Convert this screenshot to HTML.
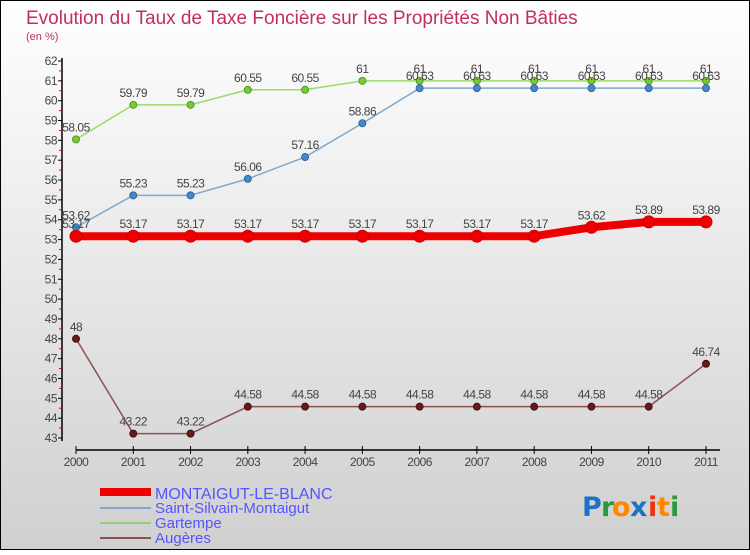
<!DOCTYPE html>
<html><head><meta charset="utf-8"><style>
body{margin:0;width:750px;height:550px;overflow:hidden;font-family:"Liberation Sans",sans-serif}
</style></head><body>
<svg id="c" width="750" height="550" xmlns="http://www.w3.org/2000/svg">
<defs><linearGradient id="bg" x1="0" y1="0" x2="0" y2="1"><stop offset="0" stop-color="#ffffff"/><stop offset="1" stop-color="#d0d0d0"/></linearGradient></defs>
<rect x="0.5" y="0.5" width="749" height="549" fill="url(#bg)" stroke="#000"/>
<text x="26" y="24" font-size="19" fill="#c0305a">Evolution du Taux de Taxe Foncière sur les Propriétés Non Bâties</text>
<text x="26" y="40" font-size="11" fill="#c0305a">(en %)</text>
<g id="axes"></g><g id="series"></g>
<g>
<rect x="100" y="488" width="51" height="8" fill="#ee0000"/>
<rect x="100" y="507" width="51" height="2" fill="#7fa8cc"/>
<rect x="100" y="522" width="51" height="2" fill="#99cc77"/>
<rect x="100" y="537" width="51" height="2" fill="#8b5050"/>
<text x="155" y="499" font-size="16" fill="#5555ff">MONTAIGUT-LE-BLANC</text>
<text x="155" y="513" font-size="15" fill="#5555ff">Saint-Silvain-Montaigut</text>
<text x="155" y="528" font-size="15" fill="#5555ff">Gartempe</text>
<text x="155" y="543" font-size="15" fill="#5555ff">Augères</text>
</g>
<g font-size="27" font-weight="bold" font-family="'DejaVu Sans',sans-serif">
<text x="582" y="516" fill="#1a73c8">P</text><text x="601" y="516" fill="#2a9a3a">r</text><text x="612" y="516" fill="#ff8800">o</text><text x="630" y="516" fill="#1a73c8">x</text><text x="648" y="516" fill="#ee3311">i</text><text x="657" y="516" fill="#ff8800">t</text><text x="670" y="516" fill="#2a9a3a">i</text>
</g>
</svg>
<script>
const years=[2000,2001,2002,2003,2004,2005,2006,2007,2008,2009,2010,2011];
const montaigut=[53.17,53.17,53.17,53.17,53.17,53.17,53.17,53.17,53.17,53.62,53.89,53.89];
const saintSilvain=[53.62,55.23,55.23,56.06,57.16,58.86,60.63,60.63,60.63,60.63,60.63,60.63];
const gartempe=[58.05,59.79,59.79,60.55,60.55,61,61,61,61,61,61,61];
const augeres=[48,43.22,43.22,44.58,44.58,44.58,44.58,44.58,44.58,44.58,44.58,46.74];
const yTicks=[43,44,45,46,47,48,49,50,51,52,53,54,55,56,57,58,59,60,61,62];
const NS="http://www.w3.org/2000/svg";
const xs=i=>76+i*(630/11);
const ys=v=>61+(62-v)*(377/19);
function mk(t,a,p){const e=document.createElementNS(NS,t);for(const k in a)e.setAttribute(k,a[k]);p.appendChild(e);return e;}
const ax=document.getElementById('axes');
let yl=mk('line',{x1:62,y1:58,x2:62,y2:441,stroke:'#000','stroke-width':1.5},ax);


yTicks.forEach(v=>{
 mk('line',{x1:58,x2:62,y1:ys(v),y2:ys(v),stroke:'#000'},ax);
 if(v<62)mk('line',{x1:59,x2:62,y1:ys(v+0.5),y2:ys(v+0.5),stroke:'#e00'},ax);
 const t=mk('text',{x:57,y:ys(v)+4,'text-anchor':'end','font-size':12,fill:'#444','letter-spacing':'-0.5'},ax);
 
 
 t.textContent=v;
});
let xl=mk('line',{x1:76,y1:450,x2:720,y2:450,stroke:'#000','stroke-width':1.5},ax);


years.forEach((y,i)=>{
 mk('line',{x1:xs(i),x2:xs(i),y1:446,y2:454,stroke:'#000'},ax);
 const t=mk('text',{x:xs(i),y:466,'text-anchor':'middle','font-size':12,fill:'#444','letter-spacing':'-0.5'},ax);
 
 
 t.textContent=y;
});
const sg=document.getElementById('series');
function series(vals,name,color,w,r,dot,dotStroke){
 const g=mk('g',{},sg);
 
 
 mk('polyline',{points:vals.map((v,i)=>xs(i)+','+ys(v)).join(' '),fill:'none',stroke:color,'stroke-width':w,'stroke-linejoin':'round'},g);
 vals.forEach((v,i)=>{
  const c=mk('circle',{cx:xs(i),cy:ys(v),r:r,fill:dot,stroke:dotStroke,'stroke-width':1},g);
  
  
  const t=mk('text',{x:xs(i),y:ys(v)-8,'text-anchor':'middle','font-size':12,fill:'#444','letter-spacing':'-0.5'},g);
  
  
  t.textContent=String(v);
 });
}
series(gartempe,'gartempe-series','#99dd66',1.5,3.5,'#77cc33','#559922');
series(saintSilvain,'saint-silvain-series','#7fa8cc',1.5,3.5,'#4488cc','#336699');
series(augeres,'augeres-series','#8b5050',1.5,3.5,'#661a1a','#441111');
series(montaigut,'montaigut-series','#ee0000',8,6,'#ee0000','#cc0000');
</script>
</body></html>
